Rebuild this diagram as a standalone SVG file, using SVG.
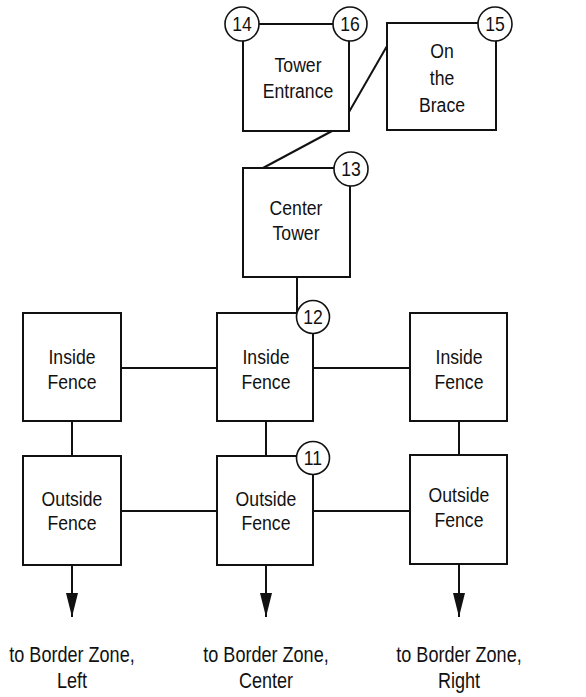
<svg xmlns="http://www.w3.org/2000/svg" width="586" height="697" viewBox="0 0 586 697">
<defs>
<style>
.box{fill:#fff;stroke:#111;stroke-width:2}
.ln{stroke:#111;stroke-width:2;fill:none}
.num{fill:#fff;stroke:#111;stroke-width:1.6}
text{font-family:"Liberation Sans",Arial,sans-serif;font-size:21px;fill:#111;text-anchor:middle;transform-box:fill-box;transform-origin:center;transform:scaleX(0.84)}
.lab{font-size:21.5px}
.n{font-size:20px;transform:scaleX(0.88)}
</style>
<marker id="arr" viewBox="0 0 24 12" refX="24" refY="6" markerWidth="24" markerHeight="12" markerUnits="userSpaceOnUse" orient="auto">
<path d="M0,0 L24,6 L0,12 Z" fill="#111"/>
</marker>
</defs>
<rect width="586" height="697" fill="#fff"/>
<g id="connectors">
<line class="ln" x1="349" y1="112" x2="387" y2="46"/>
<line class="ln" x1="332" y1="131" x2="263" y2="168"/>
<line class="ln" x1="297" y1="277" x2="297" y2="313"/>
<line class="ln" x1="121" y1="368" x2="217" y2="368"/>
<line class="ln" x1="313" y1="368" x2="410" y2="368"/>
<line class="ln" x1="72" y1="421" x2="72" y2="456"/>
<line class="ln" x1="266" y1="421" x2="266" y2="456"/>
<line class="ln" x1="459" y1="421" x2="459" y2="455"/>
<line class="ln" x1="121" y1="511" x2="217" y2="511"/>
<line class="ln" x1="313" y1="511" x2="410" y2="511"/>
<line class="ln" x1="72" y1="565" x2="72" y2="617" marker-end="url(#arr)"/>
<line class="ln" x1="266" y1="565" x2="266" y2="617" marker-end="url(#arr)"/>
<line class="ln" x1="459" y1="564" x2="459" y2="617" marker-end="url(#arr)"/>
</g>
<g id="tower-entrance">
<rect class="box" x="243" y="24" width="106" height="107"/>
<text x="298" y="72">Tower</text>
<text x="298" y="98">Entrance</text>
<circle class="num" cx="242" cy="24" r="17"/>
<text class="n" x="242" y="31">14</text>
<circle class="num" cx="350" cy="24" r="17"/>
<text class="n" x="350" y="31">16</text>
</g>
<g id="on-the-brace">
<rect class="box" x="387" y="23" width="109" height="107"/>
<text x="442" y="58">On</text>
<text x="442" y="85">the</text>
<text x="442" y="112">Brace</text>
<circle class="num" cx="495" cy="24" r="17"/>
<text class="n" x="495" y="31">15</text>
</g>
<g id="center-tower">
<rect class="box" x="243" y="168" width="107" height="109"/>
<text x="296" y="215">Center</text>
<text x="296" y="240">Tower</text>
<circle class="num" cx="351" cy="169" r="17"/>
<text class="n" x="351" y="176">13</text>
</g>
<g id="inside-left">
<rect class="box" x="23" y="313" width="98" height="108"/>
<text x="72" y="364">Inside</text>
<text x="72" y="389">Fence</text>
</g>
<g id="inside-center">
<rect class="box" x="217" y="313" width="96" height="108"/>
<text x="266" y="364">Inside</text>
<text x="266" y="389">Fence</text>
<circle class="num" cx="313" cy="317" r="16.5"/>
<text class="n" x="313" y="324">12</text>
</g>
<g id="inside-right">
<rect class="box" x="410" y="313" width="97" height="108"/>
<text x="459" y="364">Inside</text>
<text x="459" y="389">Fence</text>
</g>
<g id="outside-left">
<rect class="box" x="23" y="456" width="98" height="109"/>
<text x="72" y="506">Outside</text>
<text x="72" y="530">Fence</text>
</g>
<g id="outside-center">
<rect class="box" x="217" y="456" width="96" height="109"/>
<text x="266" y="506">Outside</text>
<text x="266" y="530">Fence</text>
<circle class="num" cx="313" cy="458" r="16.5"/>
<text class="n" x="313" y="465">11</text>
</g>
<g id="outside-right">
<rect class="box" x="410" y="455" width="97" height="109"/>
<text x="459" y="502">Outside</text>
<text x="459" y="527">Fence</text>
</g>
<g id="labels">
<text class="lab" x="72" y="662">to Border Zone,</text>
<text class="lab" x="72" y="688">Left</text>
<text class="lab" x="266" y="662">to Border Zone,</text>
<text class="lab" x="266" y="688">Center</text>
<text class="lab" x="459" y="662">to Border Zone,</text>
<text class="lab" x="459" y="688">Right</text>
</g>
</svg>
